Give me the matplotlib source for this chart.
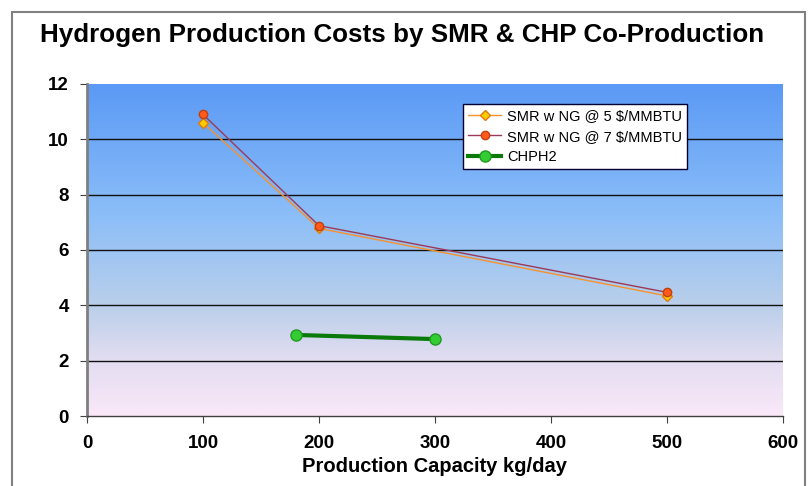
import matplotlib
matplotlib.use("Agg")
import matplotlib.pyplot as plt
import numpy as np
from matplotlib.colors import LinearSegmentedColormap
from matplotlib.patches import Rectangle

plt.rcParams['font.family'] = ['Liberation Sans', 'DejaVu Sans']

x_smr = [100, 200, 500]
smr5 = [10.6, 6.78, 4.34]
smr7 = [10.9, 6.88, 4.47]
x_chp = [180, 300]
chph2 = [2.93, 2.78]
labels = ["SMR w NG @ 5 $/MMBTU", "SMR w NG @ 7 $/MMBTU", "CHPH2"]
title = "Hydrogen Production Costs by SMR & CHP Co-Production"
xlabel = "Production Capacity kg/day"

W, H = 809, 486
fig = plt.figure(figsize=(W/100, H/100), dpi=100)
fig.patch.set_facecolor('white')
ax = fig.add_axes([87/W, 1-416/H, (783-87)/W, (416-84)/H])

# outer frame
fig.add_artist(Rectangle((12/W, -0.05), (805-12)/W, 1.05-12/H, transform=fig.transFigure,
                         fill=False, edgecolor='#808080', linewidth=1.5))

# gradient background
cmap = LinearSegmentedColormap.from_list('bg', [
    (0.0, '#FAE8F8'), (0.17, '#E2DDF1'), (0.33, '#BACFEA'),
    (0.6, '#8CBEF8'), (1.0, '#5A99F5')])
grad = np.linspace(0, 1, 256).reshape(-1, 1)
ax.imshow(grad, extent=[0, 600, 0, 12], origin='lower', aspect='auto', cmap=cmap, zorder=0)

ax.set_xlim(0, 600)
ax.set_ylim(0, 12)
ax.set_xticks(range(0, 601, 100))
ax.set_yticks(range(0, 13, 2))
for yv in range(2, 12, 2):
    ax.axhline(yv, color='#111111', linewidth=1.0, zorder=1)

ax.plot(x_smr, smr5, color='#F5922E', linewidth=1.0, marker='D', markersize=5.5,
        markerfacecolor='#FFCC00', markeredgecolor='#E07A10', label=labels[0], zorder=3)
ax.plot(x_smr, smr7, color='#9A3A5A', linewidth=1.0, marker='o', markersize=6,
        markerfacecolor='#FF5A1A', markeredgecolor='#C04010', label=labels[1], zorder=3)
ax.plot(x_chp, chph2, color='#0A7A0A', linewidth=3, marker='o', markersize=8,
        markerfacecolor='#33CC33', markeredgecolor='#229922', label=labels[2], zorder=3)

for s in ['top', 'right']:
    ax.spines[s].set_visible(False)
ax.spines['left'].set_color('#808080')
ax.spines['left'].set_linewidth(2)
ax.spines['bottom'].set_color('#404040')
ax.spines['bottom'].set_linewidth(1)
ax.tick_params(axis='both', labelsize=13.5, length=5, color='#404040')
ax.tick_params(axis='x', pad=9)
ax.tick_params(axis='y', pad=8)
for lab in ax.get_xticklabels() + ax.get_yticklabels():
    lab.set_fontweight('bold')

ax.set_xlabel(xlabel, fontsize=14.5, fontweight='bold', labelpad=3)
fig.text(40/W, 1-35/H, title, fontsize=18.7, fontweight='bold', va='center', ha='left')

leg = ax.legend(loc='upper left', bbox_to_anchor=(0.54, 0.94), borderaxespad=0,
                fontsize=10.5, frameon=True, fancybox=False, framealpha=1,
                edgecolor='#000033', handlelength=2.3, borderpad=0.35,
                labelspacing=0.45, handletextpad=0.4)
leg.get_frame().set_linewidth(1)

fig.savefig('out.png', dpi=100)
